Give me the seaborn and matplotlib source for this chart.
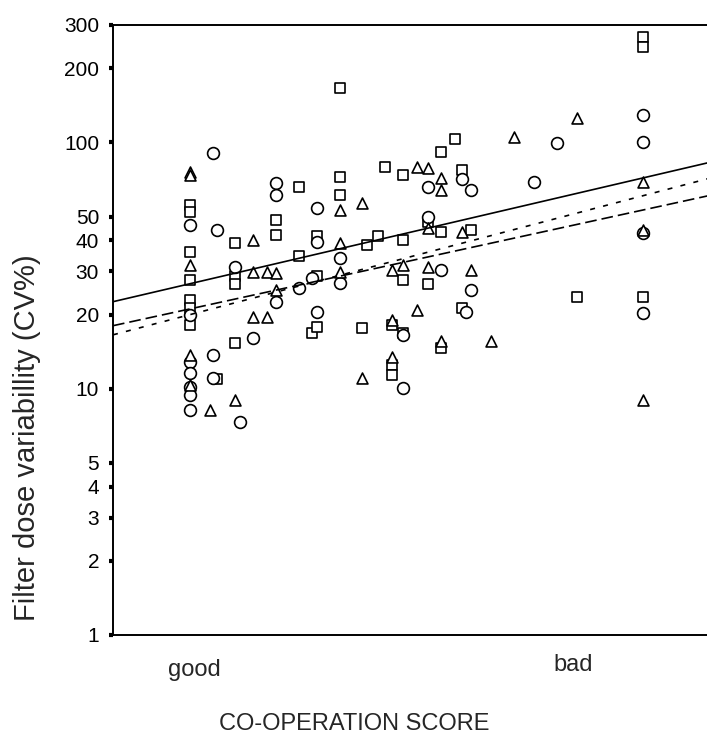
import numpy as np
import pandas as pd
import matplotlib
matplotlib.use("Agg")
import matplotlib.pyplot as plt
from matplotlib.ticker import FixedLocator, NullLocator
from matplotlib.transforms import ScaledTranslation
import seaborn as sns

sns.set_style("ticks")
plt.rcParams["font.family"] = ["Liberation Sans", "DejaVu Sans"]

# Co-operation score runs from 0 (good) to 100 (bad); CV in %.
square_score = [0, 0, 0, 0, 0, 0, 0, 6, 10, 10, 10, 10, 19, 19, 24, 24, 27, 28,
                28, 28, 33, 33, 33, 39, 38, 41.5, 43, 44.5, 44.5, 44.5, 47, 47,
                47, 47, 52.5, 52.5, 55.5, 55.5, 55.5, 58.5, 60, 62, 60, 85.5,
                100, 100, 100]
square_cv = [55.8, 52.3, 35.9, 27.7, 22.9, 21.3, 18.2, 11.0, 39.1, 15.3, 28.7,
             26.7, 48.5, 42.1, 66.0, 34.7, 16.9, 17.8, 41.7, 28.7, 166.7, 72.5,
             61.3, 38.4, 17.7, 41.7, 79.6, 18.2, 12.5, 11.4, 40.2, 73.8, 16.9,
             27.6, 47.5, 26.7, 91.6, 43.3, 14.7, 103.4, 77.4, 44.2, 21.3, 23.6,
             268, 245, 23.6]

circle_score = [0, 0, 0, 0, 0, 0, 0, 5, 5, 5, 6, 10, 11, 14, 19, 19, 19, 24, 28,
                28, 27, 28, 33, 33, 47, 47, 52.5, 52.5, 55.5, 60, 62, 62, 61,
                76, 81, 100, 100, 100, 100]
circle_cv = [46.3, 19.9, 12.8, 11.6, 10.2, 9.4, 8.2, 90.7, 13.7, 11.1, 44.2,
             31.2, 7.3, 16.1, 68.4, 61.3, 22.5, 25.7, 54.3, 39.4, 28.1, 20.5,
             34.0, 26.9, 16.6, 10.1, 66.0, 49.9, 30.4, 71.0, 64.0, 25.2, 20.5,
             69.2, 99.6, 129.5, 100.6, 43.0, 20.3]

triangle_score = [0, 0, 0, 0, 0, 4.5, 10, 14, 14, 17, 14, 17, 19, 19, 33, 33,
                  33, 38, 38, 44.5, 44.5, 44.5, 47, 50, 52.5, 50, 52.5, 52.5,
                  55.5, 55.5, 55.5, 60, 62, 66.5, 71.5, 85.5, 100, 100, 100]
triangle_cv = [76, 74, 31.8, 13.7, 10.4, 8.2, 9.0, 40.2, 29.8, 29.8, 19.6, 19.6,
               29.5, 25.2, 53.2, 39.1, 29.8, 56.9, 11.1, 30.4, 19.0, 13.5, 31.9,
               79.6, 78.6, 20.9, 44.8, 31.2, 71.8, 64.2, 15.7, 43.3, 30.4, 15.7,
               105.4, 125.9, 69.2, 44.2, 9.0]

# Fitted log-linear trends: CV at the good (0) and bad (100) ends of the score
trend_styles = ["solid", "long", "short"]
trend_at_good = [26.7, 21.1, 20.0]
trend_at_bad = [71.8, 53.2, 60.8]

y_ticks = [1, 2, 3, 4, 5, 10, 20, 30, 40, 50, 100, 200, 300]
x_tick_labels = ["good", "bad"]

fig = plt.figure(figsize=(7.07, 7.38), dpi=100)
ax = fig.add_axes([113 / 707, 103 / 738, 627 / 707, 610 / 738])
ax.set_yscale("log")
x_min, x_max = -17.0, 121.4
ax.set_xlim(x_min, x_max)
ax.set_ylim(1, 300)

groups = [
    (square_score, square_cv, "s", 50),
    (circle_score, circle_cv, "o", 72),
    (triangle_score, triangle_cv, "^", 62),
]
for score, cv, marker, size in groups:
    df = pd.DataFrame({"score": score, "cv": cv})
    sns.scatterplot(data=df, x="score", y="cv", marker=marker, s=size,
                    facecolor="white", edgecolor="black", linewidth=1.2,
                    ax=ax, zorder=3, legend=False)

line_styles = {"solid": "-", "long": (0, (7, 3)), "short": (0, (3, 5))}
xs = np.array([x_min, x_max])
for style, g, b in zip(trend_styles, trend_at_good, trend_at_bad):
    ys = g * (b / g) ** (xs / 100.0)
    sns.lineplot(x=xs, y=ys, color="black", linewidth=1.2,
                 linestyle=line_styles[style], ax=ax, zorder=4)

ax.yaxis.set_major_locator(FixedLocator(y_ticks))
ax.yaxis.set_minor_locator(NullLocator())
ax.set_yticklabels([str(t) for t in y_ticks])
ax.tick_params(axis="y", which="major", direction="out", length=3, width=3,
               pad=7, labelsize=15, color="black", labelcolor="black")

ax.set_xticks([1, 84.5])
ax.set_xticklabels(x_tick_labels)
ax.tick_params(axis="x", which="both", length=0, pad=17, labelsize=17)
ax.xaxis.set_minor_locator(NullLocator())
# the "bad" label sits a little higher than "good"
bad_label = ax.get_xticklabels()[1]
bad_label.set_transform(bad_label.get_transform()
                        + ScaledTranslation(0, 5 / 100, fig.dpi_scale_trans))

for side in ["left", "bottom", "top"]:
    ax.spines[side].set_visible(True)
    ax.spines[side].set_linewidth(1.4)
    ax.spines[side].set_color("black")
ax.spines["right"].set_visible(False)

ax.set_xlabel("CO-OPERATION SCORE", fontsize=17)
ax.xaxis.set_label_coords(0.384, -0.128)
ax.set_ylabel("Filter dose variabillity (CV%)", fontsize=21)
ax.yaxis.set_label_coords(-0.115, 0.323)
ax.grid(False)

fig.savefig("out.png", dpi=100)
